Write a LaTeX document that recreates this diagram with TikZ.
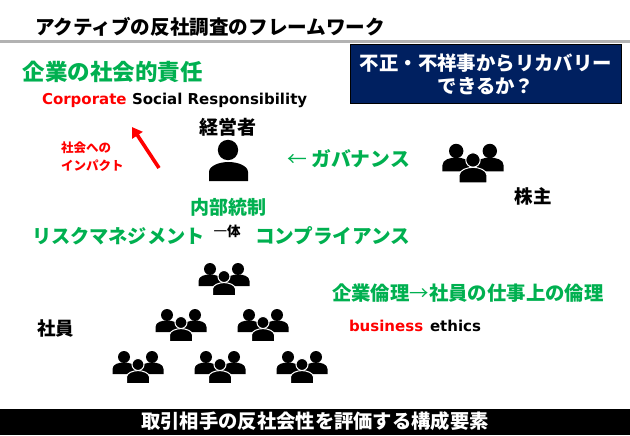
\documentclass[tikz,border=0pt]{standalone}
\usepackage{fontspec}
\setmainfont{Noto Sans CJK JP}
\newfontfamily\lat{DejaVu Sans}
\usetikzlibrary{arrows.meta}
\definecolor{grn}{HTML}{00B050}
\definecolor{nvy}{HTML}{002060}
\definecolor{rd}{HTML}{FF0000}
\newcommand{\fs}[1]{\fontsize{#1}{#1}\selectfont\bfseries}
\tikzset{
  txt/.style={inner sep=0pt,outer sep=0pt,anchor=west},
  ctr/.style={inner sep=0pt,outer sep=0pt,anchor=center},
  group/.pic={
    \fill (-14,-10) circle (6);
    \fill (14,-10) circle (6);
    \fill (-25.5,7) -- (-25.5,2) .. controls (-25.5,-3) and (-19,-4.5) .. (-14,-4.5) .. controls (-9,-4.5) and (-2.5,-3) .. (-2.5,2) -- (-2.5,7) -- cycle;
    \fill (25.5,7) -- (25.5,2) .. controls (25.5,-3) and (19,-4.5) .. (14,-4.5) .. controls (9,-4.5) and (2.5,-3) .. (2.5,2) -- (2.5,7) -- cycle;
    \filldraw[draw=white,line width=1pt] (0,-2.5) circle (6);
    \filldraw[draw=white,line width=1pt] (-11.5,16.5) -- (-11.5,10) .. controls (-11.5,6) and (-5,3.6) .. (0,3.6) .. controls (5,3.6) and (11.5,6) .. (11.5,10) -- (11.5,16.5) -- cycle;
  }
}
\begin{document}
\begin{tikzpicture}[x=1pt,y=-1pt]
\useasboundingbox (0,0) rectangle (630,436);
% title
\node[txt] (title) at (35,27) {\fs{19.6}アクティブの反社調査のフレームワーク};
\fill[black!30] (0,40.5) rectangle (630,43);
% recovery box
\node[draw=black,fill=nvy,line width=1pt,minimum width=271pt,minimum height=59pt,inner sep=0pt,text=white,align=center,anchor=north west,font=\fontsize{19.4}{23}\selectfont\bfseries] (box) at (350,44) {不正・不祥事からリカバリー\\できるか？};
% CSR
\node[txt,text=grn] (csr) at (23,72) {\fs{22.5}企業の社会的責任};
\node[txt,text=rd] (corp) at (42,100) {\lat\fs{15}Corporate};
\node[txt] (social) at (132,100) {\lat\fs{15}Social Responsibility};
\node[ctr] (ceo) at (228,127) {\fs{19}経営者};
\node[txt,text=rd] (imp1) at (61,148) {\fs{12.5}社会への};
\node[txt,text=rd] (imp2) at (61,166) {\fs{12.5}インパクト};
\coordinate (aS) at (159,168);
\coordinate (aE) at (132,127);
\draw[rd,line width=3.6pt,-{Triangle[length=10pt,width=12pt]}] (aS) -- (aE);
% person
\fill (228,150) circle (10.2);
\fill (209,181) -- (209,172) .. controls (209,166) and (219,162) .. (228.5,162) .. controls (238,162) and (248,166) .. (248,172) -- (248,181) -- cycle;
\node[txt,text=grn] (gov) at (287,159) {\fs{19.8}{\mdseries ←} ガバナンス};
\pic[scale=1.2] at (473,163) {group};
\node[ctr] (holder) at (533,196) {\fs{18.5}株主};
\node[ctr,text=grn] (ic) at (228,207) {\fs{19}内部統制};
\node[txt,text=grn] (risk) at (32,236) {\fs{19.2}リスクマネジメント};
\node[ctr] (one) at (227,231) {\fs{13.5}{\mdseries 一}体};
\node[txt,text=grn] (comp) at (255,236) {\fs{19.6}コンプライアンス};
\node[txt,text=grn] (ethics) at (332,293) {\fs{19.4}企業倫理{\mdseries →}社員の仕事上の倫理};
\node[txt,text=rd] (biz) at (349,326) {\lat\fs{15}business};
\node[txt] (eth) at (430,326) {\lat\fs{15}ethics};
\node[ctr] (emp) at (56,328) {\fs{18.5}社員};
\pic at (224,279) {group};
\pic at (181,325) {group};
\pic at (263,325) {group};
\pic at (138,367) {group};
\pic at (220,367) {group};
\pic at (302,367) {group};
% bottom bar
\fill[black] (0,408.5) rectangle (630,434.5);
\node[ctr,text=white] (bar) at (315,421) {\fs{19.3}取引相手の反社会性を評価する構成要素};
\end{tikzpicture}
\end{document}
